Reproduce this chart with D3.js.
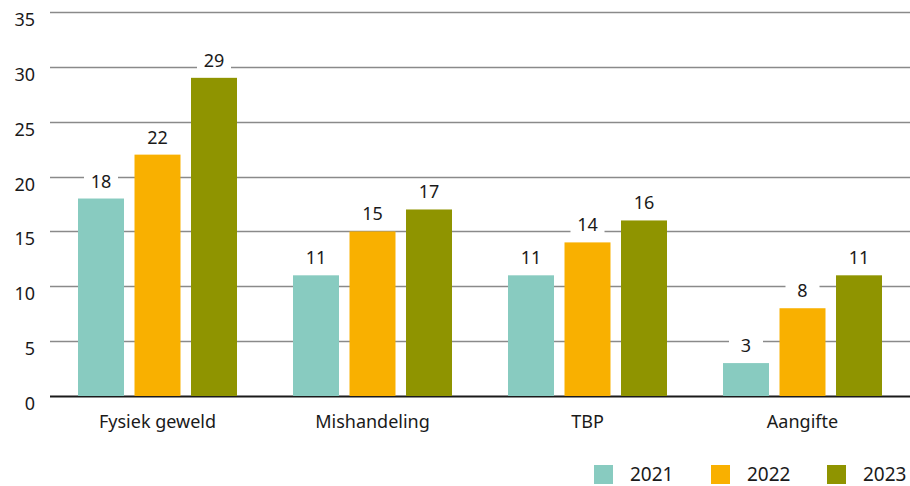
<!DOCTYPE html>
<html>
<head>
<meta charset="utf-8">
<script src="https://cdn.jsdelivr.net/npm/d3@7"></script>
<style>
  body { margin: 0; background: #fff; }
  text { font-family: "Noto Sans", sans-serif; fill: #1a1a1a; }
</style>
</head>
<body>
<div id="chart"></div>
<script>
// Data
const categories = ["Fysiek geweld", "Mishandeling", "TBP", "Aangifte"];
const years = ["2021", "2022", "2023"];
const values2021 = [18, 11, 11, 3];
const values2022 = [22, 15, 14, 8];
const values2023 = [29, 17, 16, 11];
const yTicks = [0, 5, 10, 15, 20, 25, 30, 35];
const colors = ["#88cbc0", "#f9b000", "#8f9400"];

const series = [values2021, values2022, values2023];
const rows = categories.map((c, i) => ({
    category: c,
    values: years.map((y, j) => ({ year: y, value: series[j][i] }))
}));

const width = 910, height = 486;
const margin = { top: 12, right: 0, bottom: 90, left: 50 };

const svg = d3.select("#chart")
    .append("svg")
        .attr("width", width)
        .attr("height", height);

const x0 = d3.scaleBand()
    .domain(categories)
    .range([margin.left, width - margin.right]);

const x1 = d3.scaleBand()
    .domain(years)
    .range([28, x0.bandwidth() - 28])
    .paddingInner(0.186);

const y = d3.scaleLinear()
    .domain([0, 35])
    .range([height - margin.bottom, margin.top]);

const color = d3.scaleOrdinal().domain(years).range(colors);

// Gridlines
svg.append("g")
    .selectAll("line")
    .data(yTicks)
    .enter()
    .append("line")
        .attr("x1", margin.left)
        .attr("x2", width - margin.right)
        .attr("y1", d => Math.round(y(d)) + 0.5)
        .attr("y2", d => Math.round(y(d)) + 0.5)
        .attr("stroke", d => d === 0 ? "#1a1a1a" : "#8a8a8a")
        .attr("stroke-width", d => d === 0 ? 2 : 1.3);

// Y tick labels
svg.append("g")
    .selectAll("text")
    .data(yTicks)
    .enter()
    .append("text")
        .attr("x", 35)
        .attr("y", d => y(d) + 14)
        .attr("text-anchor", "end")
        .style("font-size", "18px")
        .text(d => d);

// Bars
const groups = svg.append("g")
    .selectAll("g")
    .data(rows)
    .enter()
    .append("g")
        .attr("transform", d => `translate(${x0(d.category)},0)`);

groups.selectAll("rect")
    .data(d => d.values)
    .enter()
    .append("rect")
        .attr("x", d => x1(d.year))
        .attr("y", d => y(d.value))
        .attr("width", x1.bandwidth())
        .attr("height", d => y(0) - y(d.value))
        .attr("fill", d => color(d.year));

// Value labels with white background
const labels = groups.selectAll("g.lbl")
    .data(d => d.values)
    .enter()
    .append("g")
        .attr("class", "lbl")
        .attr("transform", d => `translate(${x1(d.year) + x1.bandwidth() / 2},${y(d.value) - 11})`);

labels.append("rect")
    .attr("x", -17)
    .attr("y", -18)
    .attr("width", 34)
    .attr("height", 22)
    .attr("fill", "#fff");

labels.append("text")
    .attr("text-anchor", "middle")
    .style("font-size", "18px")
    .text(d => d.value);

// Category labels
svg.append("g")
    .selectAll("text")
    .data(categories)
    .enter()
    .append("text")
        .attr("x", d => x0(d) + x0.bandwidth() / 2)
        .attr("y", 428)
        .attr("text-anchor", "middle")
        .style("font-size", "18px")
        .text(d => d);

// Legend
const legendX = [594, 711, 827];
const legend = svg.append("g")
    .selectAll("g")
    .data(years)
    .enter()
    .append("g")
        .attr("transform", (d, i) => `translate(${legendX[i]},465)`);

legend.append("rect")
    .attr("width", 19)
    .attr("height", 19)
    .attr("fill", d => color(d));

legend.append("text")
    .attr("x", 36)
    .attr("y", 16)
    .style("font-size", "19px")
    .text(d => d);
</script>
</body>
</html>
